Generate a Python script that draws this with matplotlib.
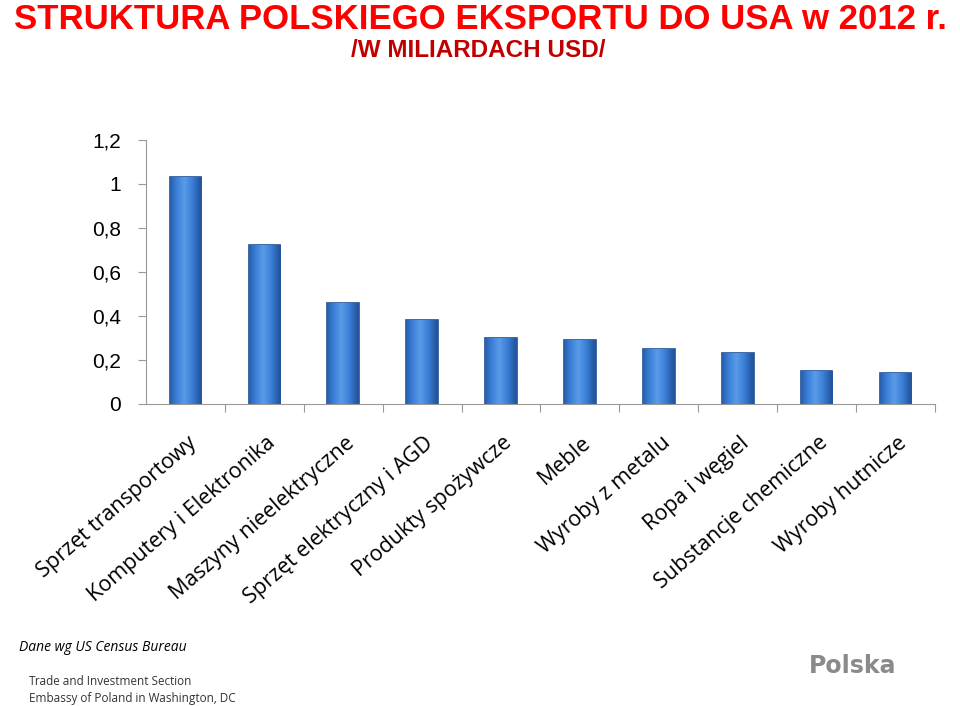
import numpy as np
import matplotlib.pyplot as plt
from matplotlib.colors import LinearSegmentedColormap
from matplotlib.ticker import FuncFormatter

categories = [
    "Sprzęt transportowy", "Komputery i Elektronika", "Maszyny nieelektryczne",
    "Sprzęt elektryczny i AGD", "Produkty spożywcze", "Meble",
    "Wyroby z metalu", "Ropa i węgiel", "Substancje chemiczne", "Wyroby hutnicze",
]
values = [1.03, 0.72, 0.46, 0.38, 0.30, 0.29, 0.25, 0.23, 0.15, 0.14]
y_ticks = [0, 0.2, 0.4, 0.6, 0.8, 1.0, 1.2]

fig = plt.figure(figsize=(9.6, 7.06), dpi=100)
ax = fig.add_axes([0.152, 0.428, 0.822, 0.374])

x = np.arange(len(categories))
bars = ax.bar(x, values, width=0.4, color="#3d80dc", edgecolor="#1f4f96", linewidth=1.2)
# horizontal gradient inside the bars
grad = np.atleast_2d(1 - np.abs(np.linspace(0, 1, 64) - 0.45) * 1.4)
cmap = LinearSegmentedColormap.from_list("bb", ["#24579f", "#3a7fd8", "#5a9be8"])
for b in bars:
    im = ax.imshow(grad, cmap=cmap, vmin=0.3, vmax=1, aspect="auto",
                   extent=[b.get_x(), b.get_x() + b.get_width(), 0, b.get_height()],
                   zorder=2)
    im.set_clip_path(b)
ax.set_xlim(-0.5, len(categories) - 0.5)
ax.set_ylim(0, 1.2)
ax.set_yticks(y_ticks)
ax.yaxis.set_major_formatter(FuncFormatter(lambda v, p: f"{v:g}".replace(".", ",")))
for s in ["top", "right"]:
    ax.spines[s].set_visible(False)
ax.spines["left"].set_color("#999999")
ax.spines["bottom"].set_color("#999999")

ax.set_xticks(x + 0.5)
ax.set_xticklabels([])
ax.tick_params(axis="x", length=6, color="#999999")
ax.tick_params(axis="y", length=6, color="#999999", labelsize=15, pad=12)
for lbl in ax.get_yticklabels():
    lbl.set_fontfamily("Liberation Sans")
for i, c in enumerate(categories):
    ax.text(i + 0.02, -0.13, c, rotation=41, ha="right", va="top",
            rotation_mode="anchor", fontsize=15.5, fontfamily="Open Sans")

fig.text(0.5, 0.996, "STRUKTURA POLSKIEGO EKSPORTU DO USA w 2012 r.", ha="center",
         va="top", color="#ff0000", fontsize=25, fontweight="bold",
         fontfamily="Liberation Sans")
fig.text(0.498, 0.928, "/W MILIARDACH USD/", ha="center", va="center",
         color="#c00000", fontsize=17.5, fontweight="bold", fontfamily="Liberation Sans")

fig.text(0.02, 0.083, "Dane wg US Census Bureau", fontsize=10, style="italic",
         fontfamily="Open Sans", va="center")
fig.text(0.03, 0.034, "Trade and Investment Section", fontsize=8.5, color="#333333",
         fontfamily="Open Sans", va="center")
fig.text(0.03, 0.011, "Embassy of Poland in Washington, DC", fontsize=8.5,
         color="#333333", fontfamily="Open Sans", va="center")
fig.text(0.843, 0.057, "Polska", fontsize=17, fontweight="bold", color="#8a8a8a",
         fontfamily="DejaVu Sans", va="center")

fig.savefig("out.png", dpi=100)
